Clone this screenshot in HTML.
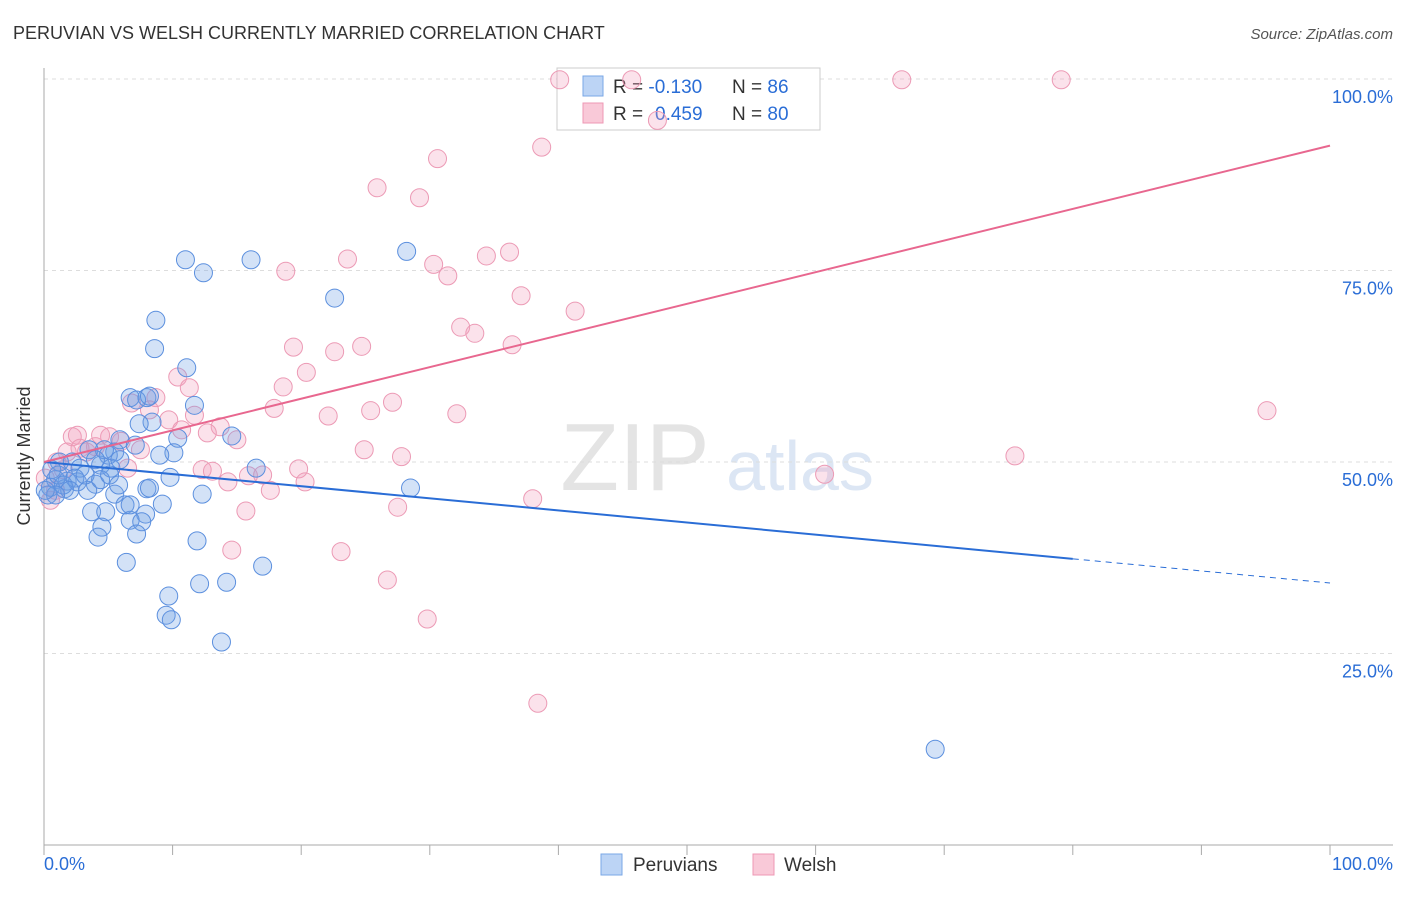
<!DOCTYPE html>
<html><head><meta charset="utf-8"><style>
body{margin:0;background:#fff;font-family:"Liberation Sans",sans-serif}
svg text{font-family:"Liberation Sans",sans-serif}
</style></head><body>
<svg id="c" width="1406" height="892">
<text x="13" y="39" font-size="18" fill="#333">PERUVIAN VS WELSH CURRENTLY MARRIED CORRELATION CHART</text>
<text x="1393" y="39" font-size="15" fill="#555" font-style="italic" text-anchor="end">Source: ZipAtlas.com</text>
<text x="30" y="456" font-size="18" fill="#333" transform="rotate(-90 30 456)" text-anchor="middle">Currently Married</text>
<text x="635" y="490" font-size="96" fill="#e4e4e4" font-family="Liberation Serif" text-anchor="middle">ZIP</text>
<text x="800" y="490" font-size="70" fill="#dce6f4" text-anchor="middle">atlas</text>
<g id="grid"></g>
<g>
<rect x="557" y="68" width="263" height="62" fill="#fff" stroke="#ccc"/>
<rect x="583" y="76" width="20" height="20" fill="#bcd4f5" stroke="#7aa7e6"/>
<rect x="583" y="103" width="20" height="20" fill="#f9c9d8" stroke="#ee98b4"/>
<text x="613" y="93" font-size="19" fill="#333">R = <tspan fill="#2a6dd6">-0.130</tspan><tspan x="732">N = </tspan><tspan fill="#2a6dd6">86</tspan></text>
<text x="613" y="120" font-size="19" fill="#333">R = <tspan fill="#2a6dd6" x="655">0.459</tspan><tspan x="732">N = </tspan><tspan fill="#2a6dd6">80</tspan></text>
</g>
<g id="pts"></g><g id="lines"></g>
<g>
<rect x="601" y="854" width="21" height="21" fill="#bcd4f5" stroke="#7aa7e6"/>
<text x="633" y="871" font-size="19" fill="#333">Peruvians</text>
<rect x="753" y="854" width="21" height="21" fill="#f9c9d8" stroke="#ee98b4"/>
<text x="784" y="871" font-size="19" fill="#333">Welsh</text>
</g>
</svg>
<script>
const yTicks=[25,50,75,100];
const yTickLabels=["25.0%","50.0%","75.0%","100.0%"];
const xTicks=[0,10,20,30,40,50,60,70,80,90,100];
const blueX=[11.0,12.4,16.1,28.2,22.6,8.7,8.6,11.1,6.7,8.0,7.2,8.2,11.7,8.4,7.4,10.4,14.6,5.9,7.1,10.1,5.5,3.5,5.0,1.2,2.2,4.4,5.2,2.8,16.5,9.8,0.9,1.8,2.6,4.0,0.5,3.4,1.6,5.5,8.0,8.2,28.5,12.3,6.3,9.2,3.7,4.8,7.9,6.7,7.6,4.5,7.2,4.2,11.9,6.4,17.0,9.7,12.1,14.2,9.5,9.9,13.8,69.3,0.3,0.6,1.1,1.5,2.4,3.2,4.4,5.1,5.8,6.7,4.7,4.0,2.0,0.9,0.1,5.9,9.0];
const blueY=[76.4,74.7,76.4,77.5,71.4,68.5,64.8,62.3,58.4,58.4,58.1,58.6,57.4,55.2,55.0,53.1,53.4,52.9,52.2,51.2,51.3,51.6,50.9,50.0,50.0,49.6,49.2,49.2,49.2,48.0,47.7,47.5,47.4,47.1,46.7,46.3,46.5,45.8,46.5,46.6,46.6,45.8,44.4,44.5,43.5,43.5,43.2,42.4,42.2,41.5,40.6,40.2,39.7,36.9,36.4,32.5,34.1,34.3,30.0,29.4,26.5,12.5,45.7,49.0,48.3,47.0,47.9,48.3,47.7,48.3,47.0,44.4,51.6,50.3,46.3,45.7,46.3,50.3,50.9];
const pinkX=[40.1,45.7,66.7,79.1,47.7,38.7,30.6,25.9,29.2,18.8,23.6,30.3,31.4,34.4,36.2,37.1,41.3,32.4,33.5,19.4,22.6,24.7,36.4,20.4,18.6,10.4,11.3,8.7,8.2,6.8,9.7,11.7,17.9,22.1,25.4,27.1,32.1,13.7,15.0,12.7,10.7,24.9,27.8,95.1,75.5,60.7,19.8,20.3,15.9,17.0,12.3,13.1,6.5,14.3,17.6,15.7,27.5,38.0,14.6,23.1,26.7,29.8,38.4,2.2,2.6,5.1,6.0,3.3,1.8,1.0,1.5,4.0,7.5,0.5,0.9,0.1,4.4,2.8];
const pinkY=[99.9,99.9,99.9,99.9,94.6,91.1,89.6,85.8,84.5,74.9,76.5,75.8,74.3,76.9,77.4,71.7,69.7,67.6,66.8,65.0,64.4,65.1,65.3,61.7,59.8,61.1,59.7,58.4,56.8,57.7,55.5,56.1,57.0,56.0,56.7,57.8,56.3,54.6,52.9,53.8,54.2,51.6,50.7,56.7,50.8,48.4,49.1,47.4,48.2,48.3,49.0,48.8,49.2,47.4,46.3,43.6,44.1,45.2,38.5,38.3,34.6,29.5,18.5,53.3,53.5,53.3,52.7,51.3,51.3,50.0,49.0,52.0,51.6,45.0,46.3,47.9,53.5,51.8];
const blueTrend=[50.0,34.2];const blueSolidEnd=80;
const pinkTrend=[50.0,91.3];
const NS='http://www.w3.org/2000/svg';
const X0=44,X1=1330,Y0=845,Y100=79;
const sx=v=>X0+(X1-X0)*v/100, sy=v=>Y0-(Y0-Y100)*v/100;
function mk(p,t,a){const e=document.createElementNS(NS,t);for(const k in a)e.setAttribute(k,a[k]);p.appendChild(e);return e;}
const g=document.getElementById('grid');
yTicks.forEach((t,i)=>{
 const l=mk(g,'line',{x1:X0,x2:1393,y1:sy(t),y2:sy(t),stroke:'#ddd','stroke-dasharray':'4 4'});
 
 
 const tx=mk(g,'text',{x:1393,y:sy(t)+24,'font-size':18,fill:'#2a6dd6','text-anchor':'end'});tx.textContent=yTickLabels[i];
 
 
});
mk(g,'line',{x1:X0,x2:X0,y1:68,y2:Y0,stroke:'#aaa'});
mk(g,'line',{x1:X0,x2:1393,y1:Y0,y2:Y0,stroke:'#aaa'});
xTicks.forEach(t=>{const l=mk(g,'line',{x1:sx(t),x2:sx(t),y1:Y0,y2:Y0+10,stroke:'#aaa'});
 
 });
let a=mk(g,'text',{x:44,y:870,'font-size':18,fill:'#2a6dd6'});a.textContent='0.0%';


a=mk(g,'text',{x:1393,y:870,'font-size':18,fill:'#2a6dd6','text-anchor':'end'});a.textContent='100.0%';


const pg=document.getElementById('pts');
pinkX.forEach((x,i)=>{const c=mk(pg,'circle',{cx:sx(x),cy:sy(pinkY[i]),r:9,fill:'rgba(242,160,188,0.3)',stroke:'#ec9ab5','stroke-width':1});
 
 });
blueX.forEach((x,i)=>{const c=mk(pg,'circle',{cx:sx(x),cy:sy(blueY[i]),r:9,fill:'rgba(110,160,230,0.3)',stroke:'#5b8fde','stroke-width':1});
 
 });
const lg=document.getElementById('lines');
const bAt=v=>blueTrend[0]+(blueTrend[1]-blueTrend[0])*v/100;
let l=mk(lg,'line',{x1:sx(0),y1:sy(bAt(0)),x2:sx(blueSolidEnd),y2:sy(bAt(blueSolidEnd)),stroke:'#2a6dd6','stroke-width':2});


l=mk(lg,'line',{x1:sx(blueSolidEnd),y1:sy(bAt(blueSolidEnd)),x2:sx(100),y2:sy(bAt(100)),stroke:'#2a6dd6','stroke-width':1,'stroke-dasharray':'6 5'});


l=mk(lg,'line',{x1:sx(0),y1:sy(pinkTrend[0]),x2:sx(100),y2:sy(pinkTrend[1]),stroke:'#e8678f','stroke-width':2});


</script>
</body></html>
